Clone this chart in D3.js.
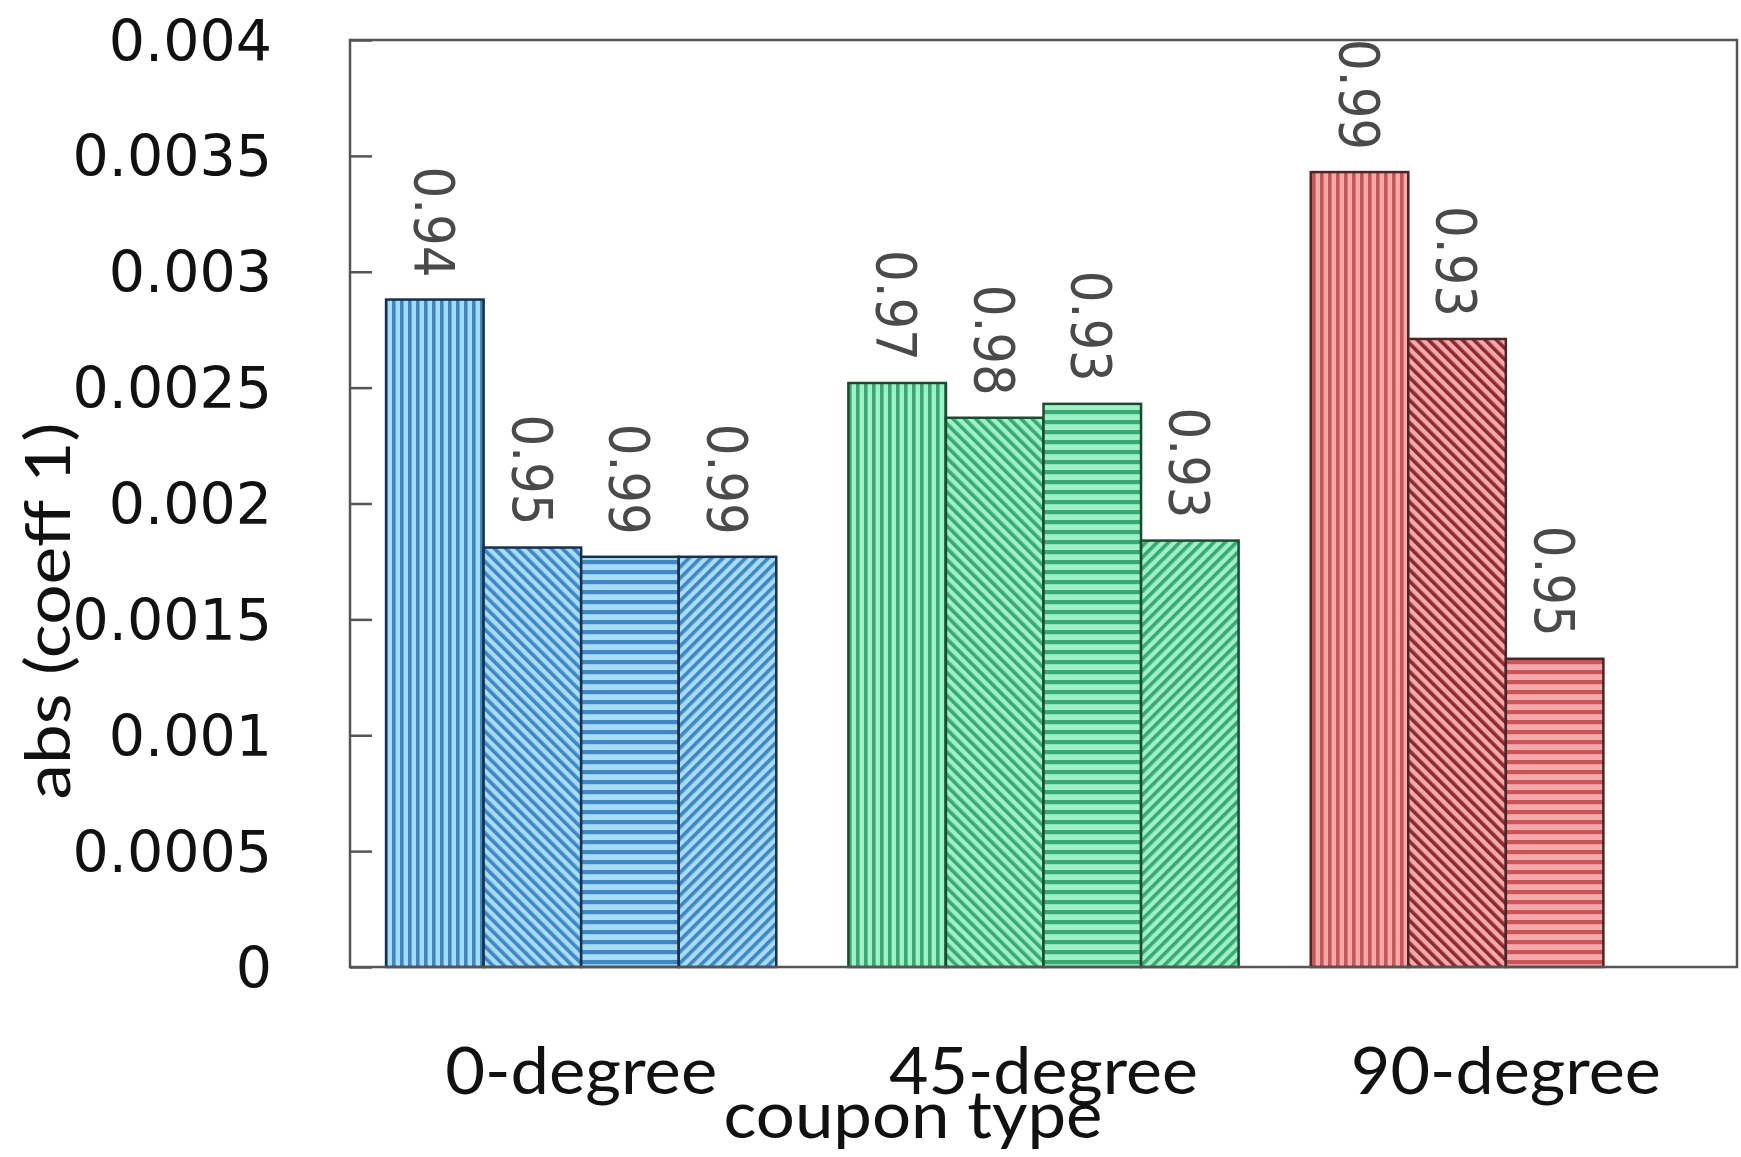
<!DOCTYPE html>
<html>
<head>
<meta charset="utf-8">
<script src="https://cdn.jsdelivr.net/npm/d3@7"></script>
<style>
  html, body { margin: 0; padding: 0; background: #fff; }
  svg { display: block; }
</style>
</head>
<body>
<svg id="chart" width="1741" height="1157"></svg>
<script>
// Coupon types along the x axis
const categories = ["0-degree", "45-degree", "90-degree"];

// abs(coeff 1) per specimen, one array per coupon type
const values0deg  = [0.00288, 0.00181, 0.00177, 0.00177];
const values45deg = [0.00252, 0.00237, 0.00243, 0.00184];
const values90deg = [0.00343, 0.00271, 0.00133];

// Fit quality printed above each bar
const fit0deg  = ["0.94", "0.95", "0.99", "0.99"];
const fit45deg = ["0.97", "0.98", "0.93", "0.93"];
const fit90deg = ["0.99", "0.93", "0.95"];

// Y axis ticks
const yTicks = [0, 0.0005, 0.001, 0.0015, 0.002, 0.0025, 0.003, 0.0035, 0.004];
const yTickLabels = ["0", "0.0005", "0.001", "0.0015", "0.002", "0.0025", "0.003", "0.0035", "0.004"];

const groupValues = [values0deg, values45deg, values90deg];
const groupFits = [fit0deg, fit45deg, fit90deg];

// Colour sets per coupon type: light ground, stripe, outline
const palettes = [
  { light: "#a6dcf6", dark: "#3f86c2", edge: "#17304c" },
  { light: "#9cf2c6", dark: "#3aa872", edge: "#1d4a31" },
  { light: "#f6a9a9", dark: "#c9545a", edge: "#4a2626" }
];
// Hatch style per position within a cluster
const hatches = ["vert", "diagDown", "horiz", "diagUp"];

const svg = d3.select("#chart");
const margin = { left: 350, right: 1737, top: 40, bottom: 967 };

const x = d3.scaleLinear().domain([-0.5, 2.5]).range([margin.left, margin.right]);
const y = d3.scaleLinear().domain([0, 0.004]).range([margin.bottom, margin.top]);
const barWidthUnits = 0.211;

// Hatch patterns
const defs = svg.append("defs");
palettes.forEach((p, gi) => {
  hatches.forEach(h => {
    const period = h === "vert" ? 8 : (h === "horiz" ? 10 : 8);
    const pat = defs.append("pattern")
      .attr("id", `hatch-${gi}-${h}`)
      .attr("patternUnits", "userSpaceOnUse")
      .attr("width", period)
      .attr("height", period);
    if (h === "diagUp") pat.attr("patternTransform", "rotate(45)");
    if (h === "diagDown") pat.attr("patternTransform", "rotate(-45)");
    pat.append("rect").attr("width", period).attr("height", period).attr("fill", p.light);
    const stripeColor = (gi === 2 && h === "diagDown") ? "#8c2a30" : p.dark;
    if (h === "horiz") {
      pat.append("rect").attr("x", 0).attr("y", 0).attr("width", period).attr("height", period * 0.42).attr("fill", stripeColor);
    } else {
      pat.append("rect").attr("x", 0).attr("y", 0).attr("width", period * 0.45).attr("height", period).attr("fill", stripeColor);
    }
  });
});

// Bars
const bars = [];
groupValues.forEach((vals, gi) => {
  vals.forEach((v, bi) => {
    bars.push({ gi, bi, value: v, fit: groupFits[gi][bi] });
  });
});

const barG = svg.append("g");
barG.selectAll("rect.bar")
  .data(bars)
  .join("rect")
  .attr("class", "bar")
  .attr("x", d => x(d.gi + (d.bi - 2) * barWidthUnits))
  .attr("width", d => x(d.gi + (d.bi - 1) * barWidthUnits) - x(d.gi + (d.bi - 2) * barWidthUnits))
  .attr("y", d => y(d.value))
  .attr("height", d => y(0) - y(d.value))
  .attr("fill", d => `url(#hatch-${d.gi}-${hatches[d.bi]})`)
  .attr("stroke", d => palettes[d.gi].edge)
  .attr("stroke-width", 2.5);

// Rotated fit labels above bars
barG.selectAll("text.fit")
  .data(bars)
  .join("text")
  .attr("class", "fit")
  .attr("transform", d => {
    const cx = x(d.gi + (d.bi - 1.5) * barWidthUnits);
    return `translate(${cx},${y(d.value) - 133}) rotate(90)`;
  })
  .attr("dy", "0.36em")
  .attr("textLength", 111)
  .attr("lengthAdjust", "spacingAndGlyphs")
  .attr("font-family", "DejaVu Sans")
  .attr("font-size", 55)
  .attr("fill", "#4a4a4a")
  .text(d => d.fit);

// Frame
svg.append("rect")
  .attr("x", margin.left)
  .attr("y", margin.top)
  .attr("width", margin.right - margin.left)
  .attr("height", margin.bottom - margin.top)
  .attr("fill", "none")
  .attr("stroke", "#555")
  .attr("stroke-width", 2.5);

// Y axis: inward ticks, labels placed to the left
const yAxis = d3.axisRight(y)
  .tickValues(yTicks)
  .tickFormat((d, i) => "")
  .tickSize(22)
  .tickSizeOuter(0);
const yAxisG = svg.append("g")
  .attr("transform", `translate(${margin.left},0)`)
  .call(yAxis);
yAxisG.select(".domain").remove();
yAxisG.selectAll(".tick line").attr("stroke", "#555").attr("stroke-width", 2.5);

svg.append("g").selectAll("text")
  .data(yTicks)
  .join("text")
  .attr("x", 272)
  .attr("y", d => y(d))
  .attr("dy", "0.36em")
  .attr("text-anchor", "end")
  .attr("font-family", "DejaVu Sans")
  .attr("font-size", 57)
  .attr("fill", "#111")
  .text((d, i) => yTickLabels[i]);

// Category labels
const catWidths = [272, 309, 310];
svg.append("g").selectAll("text")
  .data(categories)
  .join("text")
  .attr("x", (d, i) => x(i))
  .attr("y", 1094)
  .attr("text-anchor", "middle")
  .attr("font-family", "Lato")
  .attr("font-size", 66)
  .attr("textLength", (d, i) => catWidths[i])
  .attr("lengthAdjust", "spacingAndGlyphs")
  .attr("fill", "#111")
  .text(d => d);

// Axis titles
svg.append("text")
  .attr("x", 913)
  .attr("y", 1138)
  .attr("text-anchor", "middle")
  .attr("font-family", "Lato")
  .attr("font-size", 66)
  .attr("textLength", 379)
  .attr("lengthAdjust", "spacingAndGlyphs")
  .attr("fill", "#111")
  .text("coupon type");

svg.append("text")
  .attr("transform", "translate(70,611) rotate(-90)")
  .attr("text-anchor", "middle")
  .attr("font-family", "Lato")
  .attr("font-size", 62)
  .attr("textLength", 377)
  .attr("lengthAdjust", "spacingAndGlyphs")
  .attr("fill", "#111")
  .text("abs (coeff 1)");
</script>
</body>
</html>
